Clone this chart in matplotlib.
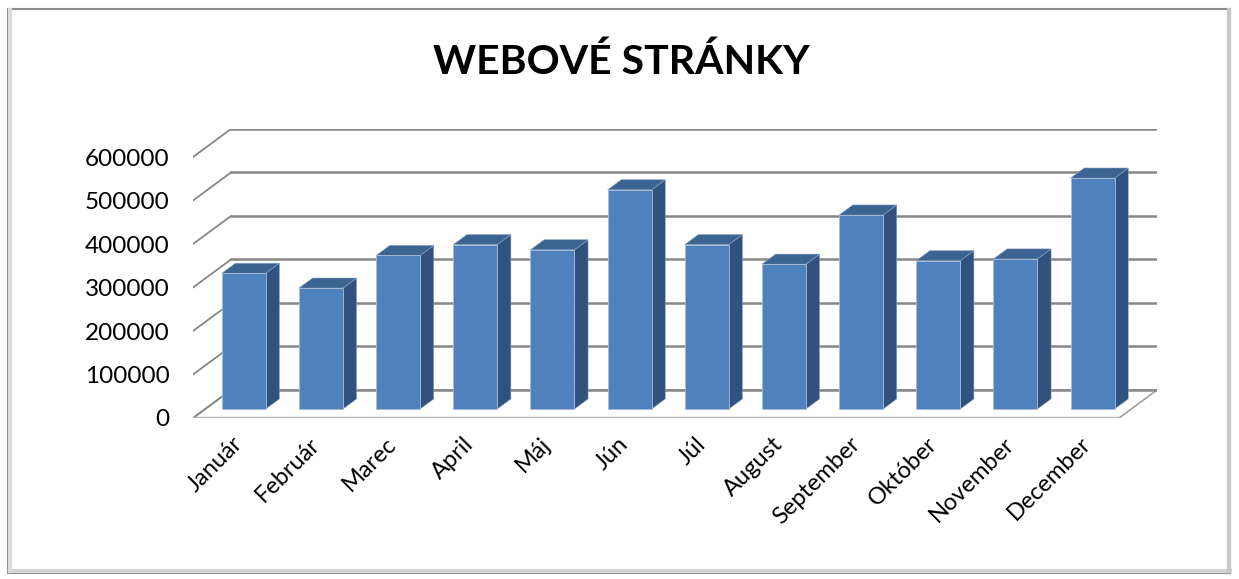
import matplotlib.pyplot as plt
from matplotlib.patches import Polygon, Rectangle
from matplotlib.lines import Line2D

months = ['Január', 'Február', 'Marec', 'April', 'Máj', 'Jún', 'Júl',
          'August', 'September', 'Október', 'November', 'December']
visits = [312000, 278000, 353000, 378000, 366000, 504000, 378000,
          333000, 446000, 341000, 345000, 531000]
y_ticks = [0, 100000, 200000, 300000, 400000, 500000, 600000]

# oblique "3d" depth offset in data units (x in categories, y in values)
dxd, dyd = 0.492, 64400
d0, bd = 0.32, 0.36   # bar front depth, bar depth (fraction of floor depth)
w = 0.57              # bar width

front_c = '#4f81bd'
side_c = '#31527e'
top_c = '#3b6492'
grid_c = '#878787'

plt.rcParams['font.family'] = ['Lato', 'DejaVu Sans']

fig = plt.figure(figsize=(12.39, 5.79), dpi=100)
W, H = 1239, 579
ax = fig.add_axes([193 / W, 1 - 418 / H, (1157 - 193) / W, (418 - 129) / H])
n = len(months)
ax.set_xlim(0, n + dxd)
ax.set_ylim(0, y_ticks[-1] + dyd)
for s in ax.spines.values():
    s.set_visible(False)

# floor
ax.add_patch(Polygon([(0, 0), (n, 0), (n + dxd, dyd), (dxd, dyd)],
                     closed=True, facecolor='white', edgecolor='#a0a0a0',
                     lw=1.2, zorder=1))
ax.plot([0, n], [0, 0], color='#b4b4b4', lw=2.5, zorder=1.5, solid_capstyle='butt')

# back wall gridlines and left wall diagonals
for v in y_ticks:
    ax.plot([dxd, n + dxd], [v + dyd, v + dyd], color=grid_c, lw=1.8, zorder=1)
    ax.plot([0, dxd], [v, v + dyd], color=grid_c, lw=1.3, zorder=1)

# bars
for i, v in enumerate(visits):
    x0 = i + (1 - w) / 2 + d0 * dxd
    y0 = d0 * dyd
    ddx, ddy = bd * dxd, bd * dyd
    ax.add_patch(Polygon([(x0 + w, y0), (x0 + w + ddx, y0 + ddy),
                          (x0 + w + ddx, y0 + ddy + v), (x0 + w, y0 + v)],
                         closed=True, facecolor=side_c, edgecolor='#8aa2c4',
                         lw=0.4, zorder=3))
    ax.add_patch(Polygon([(x0, y0 + v), (x0 + w, y0 + v),
                          (x0 + w + ddx, y0 + ddy + v), (x0 + ddx, y0 + ddy + v)],
                         closed=True, facecolor=top_c, edgecolor='#8aa2c4',
                         lw=0.4, zorder=3))
ax.bar([i + (1 - w) / 2 + d0 * dxd for i in range(n)], visits, width=w,
       bottom=d0 * dyd, align='edge', color=front_c, edgecolor='#a9bcd8',
       linewidth=0.6, zorder=4)

ax.set_yticks(y_ticks)
ax.set_yticklabels([str(v) for v in y_ticks], fontsize=17.5)
ax.set_xticks([i + 0.5 for i in range(n)])
ax.set_xticklabels(months, rotation=45, ha='right', rotation_mode='anchor',
                   fontsize=17)
ax.tick_params(axis='y', length=0, pad=17)
ax.tick_params(axis='x', length=0, pad=11)

fig.text(621 / W, 1 - 62 / H, 'WEBOVÉ STRÁNKY', ha='center', va='center',
         fontsize=29.5, fontweight='bold')

# chart frame with shadow
fig.add_artist(Rectangle((8 / W, 6 / H), 1222 / W, 564 / H,
                         transform=fig.transFigure, fill=False,
                         edgecolor='#8c8c8c', lw=1.5))
fig.add_artist(Line2D([10 / W, 1230 / W], [8 / H, 8 / H],
                      transform=fig.transFigure, color='#d4d4d4', lw=3))
fig.add_artist(Line2D([10 / W, 10 / W], [8 / H, 569 / H],
                      transform=fig.transFigure, color='#dcdcdc', lw=3))
fig.add_artist(Line2D([1229 / W, 1229 / W], [8 / H, 569 / H],
                      transform=fig.transFigure, color='#c8c8c8', lw=3))

fig.savefig('out.png', dpi=100)
